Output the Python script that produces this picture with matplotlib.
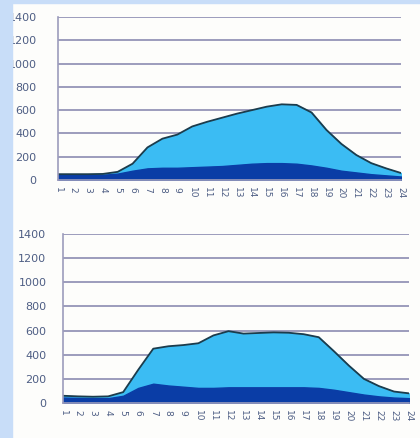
import numpy as np
import matplotlib.pyplot as plt
from matplotlib.patches import Rectangle

hours = list(range(1, 25))
labels = [str(h) for h in hours]

# top chart
top_total = [50, 50, 50, 52, 70, 140, 280, 355, 390, 460, 500, 535,
             570, 600, 630, 650, 645, 580, 430, 310, 215, 145, 100, 60]
top_base = [45, 45, 45, 45, 55, 80, 100, 105, 105, 110, 115, 120,
            130, 140, 145, 145, 140, 125, 105, 80, 65, 50, 40, 30]

# bottom chart
bot_total = [60, 55, 52, 55, 90, 275, 450, 470, 480, 495, 560, 595,
             575, 580, 585, 582, 570, 545, 430, 310, 200, 140, 95, 80]
bot_base = [45, 42, 40, 40, 60, 125, 160, 145, 135, 125, 125, 130,
            130, 130, 130, 130, 130, 125, 110, 90, 70, 55, 45, 40]

yticks = [0, 200, 400, 600, 800, 1000, 1200, 1400]

light = '#3bbcf3'
dark = '#0a3da6'
edge = '#1c3c4c'
grid = '#9c9cbc'
txt = '#4e5e84'

W, H = 420, 438
fig = plt.figure(figsize=(W/100, H/100), dpi=100)
fig.patch.set_facecolor('#fdfdfb')


def draw(ax, total, base, pad):
	ax.fill_between(hours, 0, total, color=light, zorder=2)
	ax.plot(hours, total, color=edge, lw=1.3, zorder=4, solid_joinstyle='round')
	ax.fill_between(hours, 0, base, color=dark, zorder=3)
	ax.set_xlim(1, 24)
	ax.set_ylim(0, 1400)
	ax.set_yticks(yticks)
	ax.set_yticklabels([str(v) for v in yticks])
	ax.set_xticks(hours)
	ax.set_xticklabels(labels, rotation=-90)
	ax.yaxis.grid(True, color=grid, lw=1.4)
	ax.set_axisbelow(True)
	for s in ['top', 'right']:
		ax.spines[s].set_visible(False)
	for s in ['left', 'bottom']:
		ax.spines[s].set_color(grid)
		ax.spines[s].set_linewidth(1.2)
		ax.spines[s].set_zorder(5)
	ax.tick_params(axis='y', length=0, pad=pad, labelsize=8, labelcolor=txt)
	ax.tick_params(axis='x', length=0, pad=5, labelsize=6.5, labelcolor=txt)
	ax.set_facecolor('none')


ax1 = fig.add_axes([58/W, 1-180/H, 343/W, 163/H])
draw(ax1, top_total, top_base, 15.5)

ax2 = fig.add_axes([63/W, 1-403/H, 346/W, 169/H])
draw(ax2, bot_total, bot_base, 12)

# light blue frame strips (cover the clipped labels)
strip = '#c8ddf8'
fig.add_artist(Rectangle((0, 0), 12/W, 1, transform=fig.transFigure,
                         color=strip, zorder=10))
fig.add_artist(Rectangle((0, 1-3/H), 1, 3/H, transform=fig.transFigure,
                         color=strip, zorder=10))

fig.savefig('out.png', dpi=100)
